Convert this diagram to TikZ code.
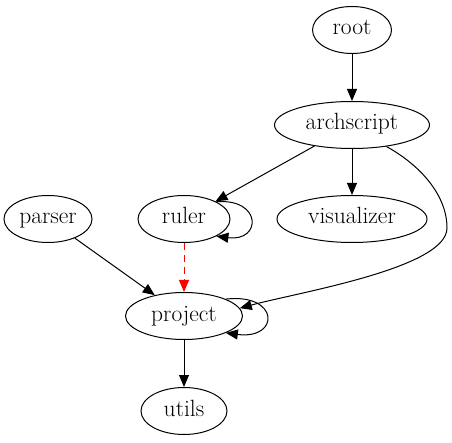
\documentclass[tikz,border=0pt]{standalone}
\usetikzlibrary{arrows.meta,shapes.geometric}
\begin{document}
\begin{tikzpicture}[x=1pt,y=-1pt,
  nd/.style={draw, ellipse, line width=1pt, minimum height=47pt, inner sep=0pt,
    text height=15pt, text depth=5pt, font=\fontsize{23.5}{27}\selectfont},
  ar/.style={line width=1pt, -{Triangle[length=12pt,width=10pt]}},
  redar/.style={ar, red, dash pattern=on 7pt off 5pt},
]
\useasboundingbox (0,0) rectangle (452,443);
\node[nd, minimum width=79pt]  (root)  at (352,30)  {root};
\node[nd, minimum width=155pt] (arch)  at (352,125) {archscript};
\node[nd, minimum width=88pt]  (parser) at (48,219) {parser};
\node[nd, minimum width=92pt]  (ruler) at (184,219) {ruler};
\node[nd, minimum width=150pt] (vis)   at (352,219) {visualizer};
\node[nd, minimum width=117pt] (proj)  at (184,316) {project};
\node[nd, minimum width=86pt]  (utils) at (184,411) {utils};

\draw[ar] (root) -- (arch);
\draw[ar] (arch) -- (ruler);
\draw[ar] (arch) -- (vis);
\draw[ar] (arch.-32) .. controls (420,165) and (447,195) .. (447,228)
  .. controls (447,268) and (300,292) .. (proj.8);
\draw[ar] (ruler.28) .. controls (262,198) and (262,242) .. (ruler.-28);
\draw[ar] (parser) -- (proj);
\draw[redar] (ruler) -- (proj);
\draw[ar] (proj.22) .. controls (280,293) and (280,340) .. (proj.-22);
\draw[ar] (proj) -- (utils);
\end{tikzpicture}
\end{document}
